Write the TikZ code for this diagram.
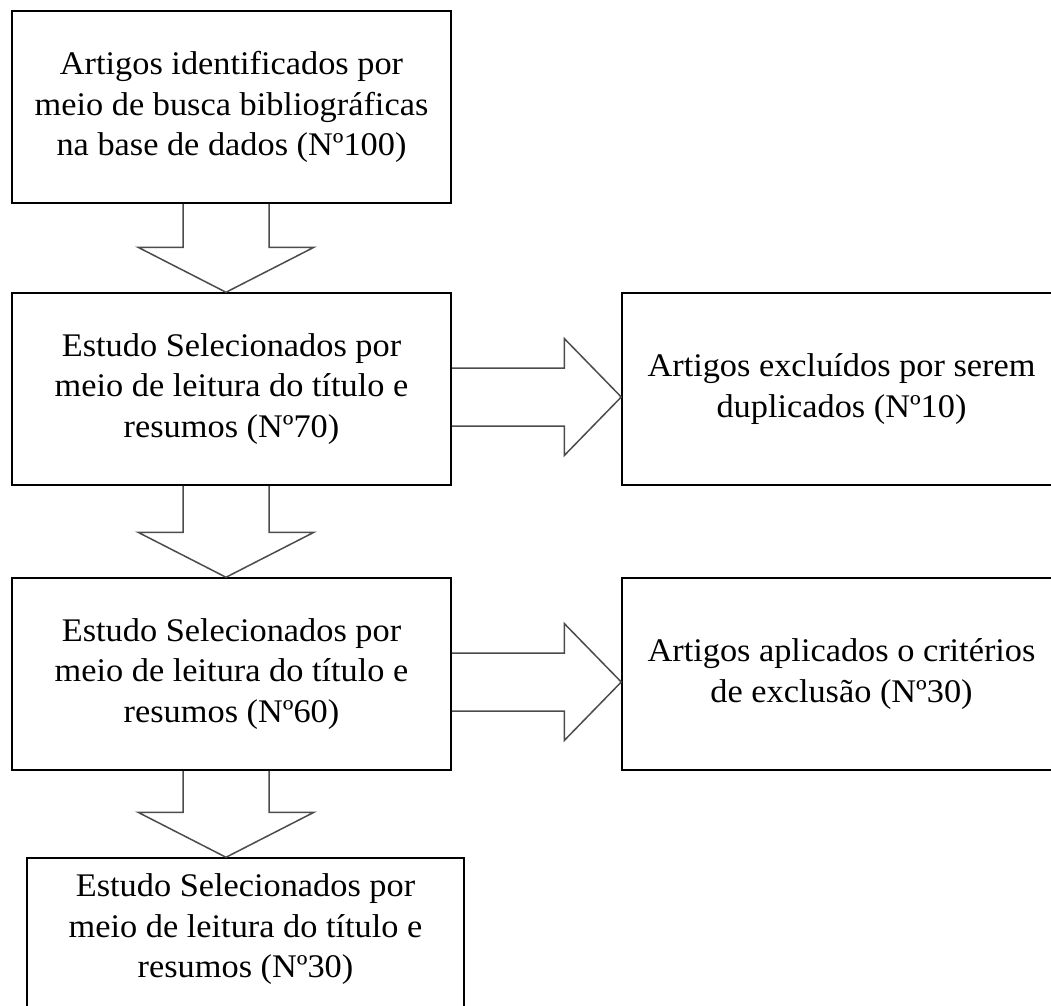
\documentclass[tikz,border=0pt]{standalone}
\usepackage{fontspec}
\setmainfont[FakeStretch=1.04]{Liberation Serif}
\usepackage{tikz}
\usetikzlibrary{calc}

\begin{document}
\begin{tikzpicture}[x=1pt,y=-1pt,
    caixa/.style={draw,line width=1.5pt,inner sep=0pt,minimum width=439pt,minimum height=192pt,align=center,font=\fontsize{33}{40.5}\selectfont},
    seta/.style={draw=black!70,line width=1.5pt,line join=miter}]
\path[use as bounding box,fill=white] (0,0) rectangle (1051,1005);

\node[caixa] (b1) at (231.5,107) {Artigos identificados por\\meio de busca bibliográficas\\na base de dados (Nº100)};
\node[caixa] (b2) at (231.5,389) {Estudo Selecionados por\\meio de leitura do título e\\resumos (Nº70)};
\node[caixa] (b3) at (841.5,389) {Artigos excluídos por serem\\duplicados (Nº10)};
\node[caixa] (b4) at (231.5,674) {Estudo Selecionados por\\meio de leitura do título e\\resumos (Nº60)};
\node[caixa] (b5) at (841.5,674) {Artigos aplicados o critérios\\de exclusão (Nº30)};
\node[caixa,minimum width=437pt,minimum height=155pt] (b6) at (245.5,935.5) {Estudo Selecionados por\\meio de leitura do título e\\resumos (Nº30)\rule[-19pt]{0pt}{0pt}};

\foreach \a/\b in {b1/b2,b2/b4,b4/b6} {
    \coordinate (c) at ($(\a.south)+(-5.5,0)$);
    \coordinate (t) at (c |- \b.north);
    \draw[seta] ($(c)+(-43,0)$) -- ($(t)+(-43,-45)$) -- ($(t)+(-88,-45)$) -- (t) -- ($(t)+(88,-45)$) -- ($(t)+(43,-45)$) -- ($(c)+(43,0)$);
}

\foreach \a/\b in {b2/b3,b4/b5} {
    \coordinate (c) at ($(\a.east)+(0,8)$);
    \coordinate (t) at (c -| \b.west);
    \draw[seta] ($(c)+(0,-29)$) -- ($(t)+(-57,-29)$) -- ($(t)+(-57,-58.5)$) -- (t) -- ($(t)+(-57,58.5)$) -- ($(t)+(-57,29)$) -- ($(c)+(0,29)$);
}
\end{tikzpicture}
\end{document}
